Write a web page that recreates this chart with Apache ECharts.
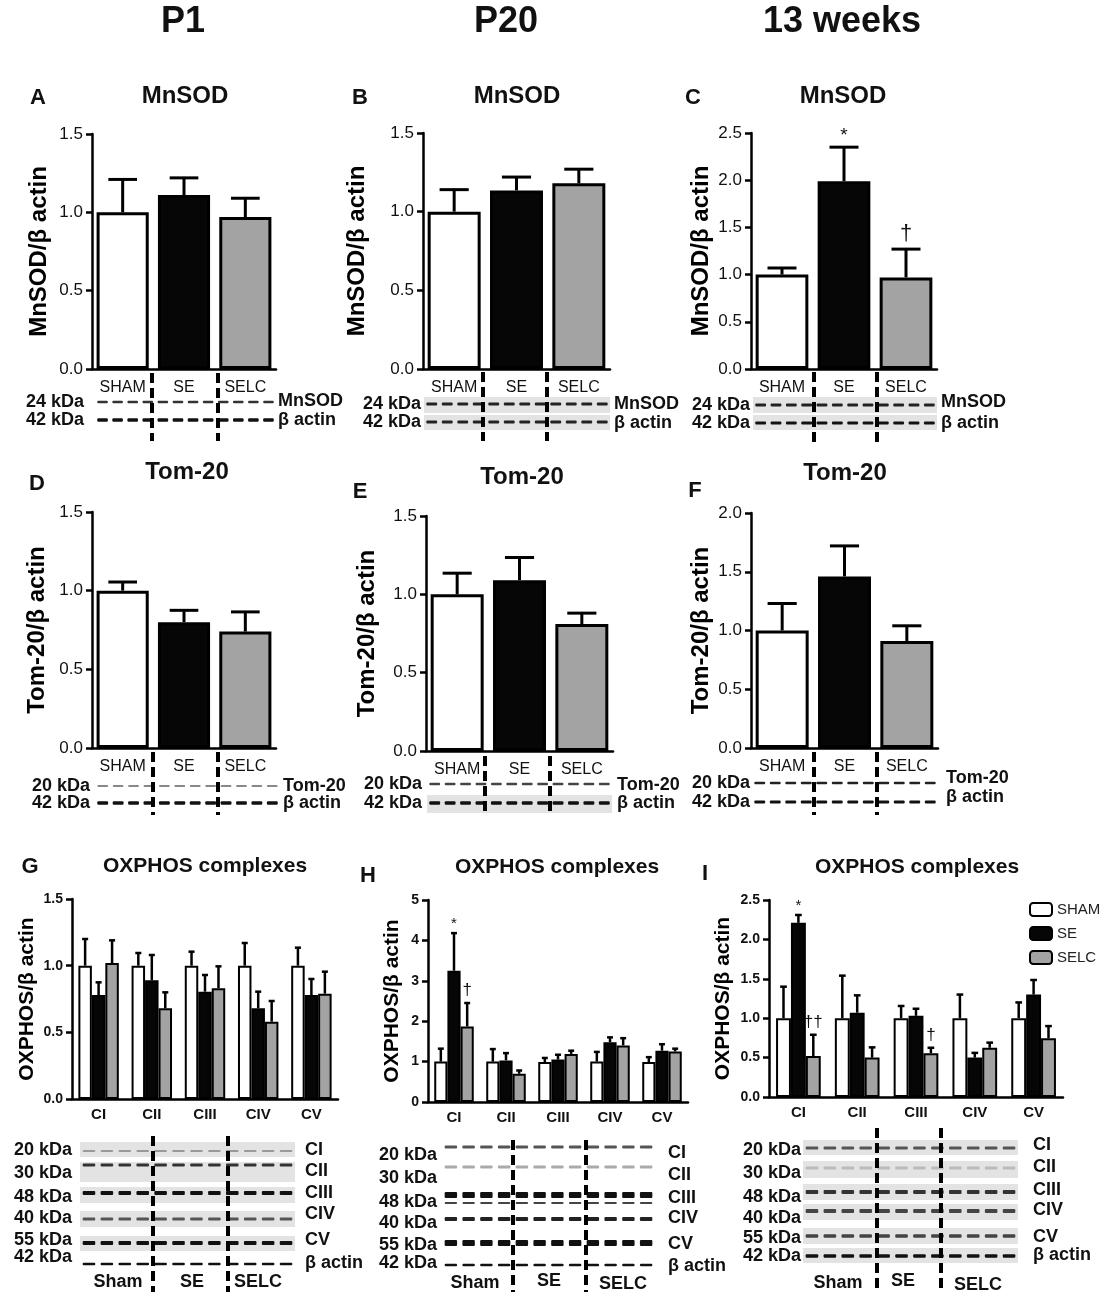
<!DOCTYPE html>
<html><head><meta charset="utf-8">
<script src="https://cdn.jsdelivr.net/npm/echarts@6/dist/echarts.min.js"></script>
<style>html,body{margin:0;padding:0;background:#fff}#c{width:1110px;height:1300px}</style>
</head><body><div id="c"></div>
<script>
// ---------- DATA ----------
const groups = ['SHAM', 'SE', 'SELC'];
const complexes = ['CI', 'CII', 'CIII', 'CIV', 'CV'];
const columnHeaders = ['P1', 'P20', '13 weeks'];

const mnsodP1Mean = [1.00, 1.11, 0.97];
const mnsodP1Sem = [0.21, 0.11, 0.12];
const mnsodP20Mean = [1.00, 1.135, 1.18];
const mnsodP20Sem = [0.14, 0.085, 0.09];
const mnsod13wMean = [1.00, 1.99, 0.97];
const mnsod13wSem = [0.07, 0.36, 0.30];
const mnsod13wSig = ['', '*', '†'];

const tomP1Mean = [1.00, 0.80, 0.74];
const tomP1Sem = [0.055, 0.075, 0.125];
const tomP20Mean = [1.00, 1.09, 0.81];
const tomP20Sem = [0.135, 0.145, 0.07];
const tom13wMean = [1.00, 1.46, 0.91];
const tom13wSem = [0.23, 0.26, 0.13];

const oxP1ShamMean = [1.00, 1.00, 1.00, 1.00, 1.00];
const oxP1ShamSem = [0.20, 0.095, 0.105, 0.17, 0.135];
const oxP1SeMean = [0.78, 0.89, 0.805, 0.68, 0.78];
const oxP1SeSem = [0.095, 0.19, 0.125, 0.125, 0.12];
const oxP1SelcMean = [1.02, 0.68, 0.83, 0.58, 0.79];
const oxP1SelcSem = [0.17, 0.12, 0.165, 0.155, 0.165];

const oxP20ShamMean = [1.00, 1.00, 0.99, 1.00, 0.99];
const oxP20ShamSem = [0.32, 0.31, 0.10, 0.24, 0.12];
const oxP20SeMean = [3.25, 1.03, 1.05, 1.48, 1.27];
const oxP20SeSem = [0.93, 0.18, 0.12, 0.12, 0.16];
const oxP20SelcMean = [1.87, 0.70, 1.19, 1.40, 1.25];
const oxP20SelcSem = [0.58, 0.08, 0.08, 0.18, 0.07];
const oxP20SeSig = ['*', '', '', '', ''];
const oxP20SelcSig = ['†', '', '', '', ''];

const ox13wShamMean = [1.00, 1.00, 1.00, 1.00, 1.00];
const ox13wShamSem = [0.40, 0.54, 0.155, 0.30, 0.20];
const ox13wSeMean = [2.21, 1.07, 1.03, 0.50, 1.30];
const ox13wSeSem = [0.10, 0.22, 0.09, 0.06, 0.185];
const ox13wSelcMean = [0.52, 0.50, 0.555, 0.625, 0.745];
const ox13wSelcSem = [0.27, 0.13, 0.07, 0.065, 0.155];
const ox13wSeSig = ['*', '', '', '', ''];
const ox13wSelcSig = ['††', '', '†', '', ''];

// ---------- LAYOUT ----------
const F = '"Liberation Sans", Arial, sans-serif';
const COLORS = ['#ffffff', '#060606', '#a3a3a3'];

const panels = [
  {letter:'A', lx:38, ly:98, title:'MnSOD', tx:185, ty:96, grid:{left:92,top:134,width:184,height:235}, max:1.5, step:0.5, yName:'MnSOD/β actin', nameGap:41, single:true, mean:mnsodP1Mean, sem:mnsodP1Sem},
  {letter:'B', lx:360, ly:98, title:'MnSOD', tx:517, ty:96, grid:{left:423,top:133,width:187,height:236}, max:1.5, step:0.5, yName:'MnSOD/β actin', nameGap:54, single:true, mean:mnsodP20Mean, sem:mnsodP20Sem},
  {letter:'C', lx:693, ly:98, title:'MnSOD', tx:843, ty:96, grid:{left:751,top:133,width:186,height:236}, max:2.5, step:0.5, yName:'MnSOD/β actin', nameGap:38, single:true, mean:mnsod13wMean, sem:mnsod13wSem, sig:mnsod13wSig},
  {letter:'D', lx:37, ly:484, title:'Tom-20', tx:187, ty:472, grid:{left:92,top:512,width:184,height:236}, max:1.5, step:0.5, yName:'Tom-20/β actin', nameGap:43, single:true, mean:tomP1Mean, sem:tomP1Sem},
  {letter:'E', lx:360, ly:492, title:'Tom-20', tx:522, ty:477, grid:{left:426,top:516,width:187,height:235}, max:1.5, step:0.5, yName:'Tom-20/β actin', nameGap:47, single:true, mean:tomP20Mean, sem:tomP20Sem},
  {letter:'F', lx:695, ly:491, title:'Tom-20', tx:845, ty:473, grid:{left:751,top:513,width:187,height:235}, max:2.0, step:0.5, yName:'Tom-20/β actin', nameGap:38, single:true, mean:tom13wMean, sem:tom13wSem},
  {letter:'G', lx:30, ly:867, title:'OXPHOS complexes', tx:205, ty:866, grid:{left:72,top:899,width:266,height:200}, max:1.5, step:0.5, yName:'OXPHOS/β actin', nameGap:34, single:false,
   sets:[{mean:oxP1ShamMean, sem:oxP1ShamSem},{mean:oxP1SeMean, sem:oxP1SeSem},{mean:oxP1SelcMean, sem:oxP1SelcSem}]},
  {letter:'H', lx:368, ly:876, title:'OXPHOS complexes', tx:557, ty:867, grid:{left:428,top:900,width:260,height:202}, max:5, step:1, yName:'OXPHOS/β actin', nameGap:25, single:false,
   sets:[{mean:oxP20ShamMean, sem:oxP20ShamSem},{mean:oxP20SeMean, sem:oxP20SeSem, sig:oxP20SeSig},{mean:oxP20SelcMean, sem:oxP20SelcSem, sig:oxP20SelcSig}]},
  {letter:'I', lx:705, ly:874, title:'OXPHOS complexes', tx:917, ty:867, grid:{left:769,top:900,width:294,height:197}, max:2.5, step:0.5, yName:'OXPHOS/β actin', nameGap:35, single:false,
   sets:[{mean:ox13wShamMean, sem:ox13wShamSem},{mean:ox13wSeMean, sem:ox13wSeSem, sig:ox13wSeSig},{mean:ox13wSelcMean, sem:ox13wSelcSem, sig:ox13wSelcSig}]}
];

function text(x, y, s, align, font, extra) {
  return Object.assign({type:'text', x:x, y:y, z:10, silent:true,
    style:{text:s, font:font, fill:'#111', align:align, verticalAlign:'middle', textAlign:align, textVerticalAlign:'middle'}}, extra || {});
}

function makeErr(k, n, gap, capFrac, lw, sig, small) {
  return function (params, api) {
    const c = api.value(0), m = api.value(1), s = api.value(2);
    const band = api.size([1, 0])[0];
    const bw = band * (1 - gap) / n;
    const base = api.coord([c, m]);
    const top = api.coord([c, m + s]);
    const cx = base[0] + (k - (n - 1) / 2) * bw;
    const cap = bw * capFrac;
    const children = [
      {type:'line', shape:{x1:cx, y1:base[1], x2:cx, y2:top[1]}, style:{stroke:'#000', lineWidth:lw}},
      {type:'line', shape:{x1:cx - cap / 2, y1:top[1], x2:cx + cap / 2, y2:top[1]}, style:{stroke:'#000', lineWidth:lw}}
    ];
    const t = sig ? sig[params.dataIndex] : '';
    if (t) {
      const isStar = t === '*';
      const fs = small ? (isStar ? 15 : 17) : (isStar ? 19 : 22);
      children.push({type:'text', x:cx, y:top[1] - (isStar ? 2 : 4),
        style:{text:t, font:fs + 'px ' + F, fill:'#111', align:'center', verticalAlign:'bottom', textAlign:'center', textVerticalAlign:'bottom'}});
    }
    return {type:'group', children:children};
  };
}

const option = {
  animation:false, backgroundColor:'#fff', textStyle:{fontFamily:F},
  grid:[], xAxis:[], yAxis:[], series:[],
  legend:{orient:'vertical', left:1024, top:897, itemWidth:22, itemHeight:13, itemGap:9, selectedMode:false,
    data:['SHAM','SE','SELC'], textStyle:{fontSize:15, color:'#222', fontFamily:F},
    itemStyle:{borderColor:'#000', borderWidth:2}},
  graphic:{elements:[]}
};
const G = option.graphic.elements;

panels.forEach((p, i) => {
  option.grid.push(Object.assign({containLabel:false}, p.grid));
  const s = p.single;
  option.xAxis.push({type:'category', gridIndex:i, data: s ? groups : complexes,
    axisLine:{lineStyle:{color:'#000', width:2.5}},
    axisTick:{alignWithLabel:true, length:6, lineStyle:{color:'#000', width:2.5}},
    axisLabel:{color:'#111', fontSize: s ? 16 : 15, fontWeight: s ? 'normal' : 'bold', margin: s ? 11 : 8, interval:0}});
  option.yAxis.push({type:'value', gridIndex:i, min:0, max:p.max, interval:p.step,
    name:p.yName, nameLocation:'middle', nameGap:p.nameGap,
    nameTextStyle:{fontSize: s ? 24 : 21, fontWeight:'bold', color:'#000', fontFamily:F},
    axisLine:{show:true, lineStyle:{color:'#000', width:2.5}},
    axisTick:{show:true, length:6, lineStyle:{color:'#000', width:2.5}},
    splitLine:{show:false},
    axisLabel:{color:'#111', fontSize: s ? 17 : 14, fontWeight: s ? 'normal' : 'bold', margin:9,
      formatter: v => p.step >= 1 ? String(v) : v.toFixed(1)}});
  if (s) {
    option.series.push({type:'bar', name:'panel' + p.letter, xAxisIndex:i, yAxisIndex:i, barWidth:'85%', z:2,
      data:p.mean.map((v, k) => ({value:v, itemStyle:{color:COLORS[k]}})),
      itemStyle:{borderColor:'#000', borderWidth:3}});
    option.series.push({type:'custom', xAxisIndex:i, yAxisIndex:i, z:3,
      data:p.mean.map((v, k) => [k, v, p.sem[k]]),
      renderItem: makeErr(0, 1, 0.15, 0.55, 3, p.sig, false)});
  } else {
    p.sets.forEach((g, k) => {
      option.series.push({type:'bar', name:groups[k], xAxisIndex:i, yAxisIndex:i, barGap:'0%', barCategoryGap:'24%', z:2,
        data:g.mean, itemStyle:{color:COLORS[k], borderColor:'#000', borderWidth:2}});
      option.series.push({type:'custom', xAxisIndex:i, yAxisIndex:i, z:3,
        data:g.mean.map((v, c) => [c, v, g.sem[c]]),
        renderItem: makeErr(k, 3, 0.24, 0.45, 2.5, g.sig, true)});
    });
  }
  G.push(text(p.lx, p.ly, p.letter, 'center', 'bold 22px ' + F));
  G.push(text(p.tx, p.ty, p.title, 'center', 'bold ' + (s ? 24 : 21) + 'px ' + F));
});

// column headers
[183, 506, 842].forEach((x, j) => G.push(text(x, 22, columnHeaders[j], 'center', 'bold 36px ' + F)));

// ---------- western blot strips (decorative) ----------
function addBlot(b) {
  const lw = (b.x1 - b.x0) / b.lanes;
  b.rows.forEach(r => {
    if (r.bg) G.push({type:'rect', z:1, silent:true, shape:{x:b.x0, y:r.bg[0], width:b.x1 - b.x0, height:r.bg[1]}, style:{fill:'#e3e3e3'}});
    for (let i = 0; i < b.lanes; i++) {
      G.push({type:'rect', z:2, silent:true, shape:{x:b.x0 + i * lw + lw * 0.15, y:r.band - r.h / 2, width:lw * 0.7, height:r.h, r:1}, style:{fill:r.color}});
    }
    if (r.kda) G.push(text(b.kdaX, r.kdaY, r.kda, 'right', 'bold 18px ' + F));
    if (r.name) G.push(text(b.nameX, r.nameY, r.name, 'left', 'bold 18px ' + F));
  });
  b.seps.forEach(x => G.push({type:'line', z:3, silent:true, shape:{x1:x, y1:b.sepY[0], x2:x, y2:b.sepY[1]}, style:{stroke:'#000', lineWidth:4, lineDash:[10, 5]}}));
  (b.bottom || []).forEach(t => G.push(text(t[1], t[2], t[0], 'center', 'bold 18px ' + F)));
}

const blots = [
  {x0:95, x1:276, lanes:12, kdaX:84, nameX:278, seps:[152, 218], sepY:[373, 441], rows:[
    {band:402, h:2.5, color:'#333', kda:'24 kDa', kdaY:402, name:'MnSOD', nameY:401},
    {band:420, h:3.5, color:'#111', kda:'42 kDa', kdaY:420, name:'β actin', nameY:420}]},
  {x0:424, x1:610, lanes:12, kdaX:421, nameX:614, seps:[483, 547], sepY:[372, 441], rows:[
    {band:404, h:3, color:'#222', bg:[397, 16], kda:'24 kDa', kdaY:404, name:'MnSOD', nameY:404},
    {band:422, h:3, color:'#222', bg:[415, 15], kda:'42 kDa', kdaY:422, name:'β actin', nameY:423}]},
  {x0:753, x1:937, lanes:12, kdaX:750, nameX:941, seps:[814, 877], sepY:[372, 442], rows:[
    {band:405, h:3, color:'#222', bg:[397, 16], kda:'24 kDa', kdaY:405, name:'MnSOD', nameY:402},
    {band:423, h:3, color:'#111', bg:[415, 15], kda:'42 kDa', kdaY:423, name:'β actin', nameY:423}]},
  {x0:95, x1:280, lanes:12, kdaX:90, nameX:283, seps:[153, 218], sepY:[752, 815], rows:[
    {band:786, h:2, color:'#888', kda:'20 kDa', kdaY:786, name:'Tom-20', nameY:786},
    {band:803, h:3.5, color:'#111', kda:'42 kDa', kdaY:803, name:'β actin', nameY:803}]},
  {x0:427, x1:612, lanes:12, kdaX:422, nameX:617, seps:[485, 550], sepY:[756, 815], rows:[
    {band:784, h:2.5, color:'#444', kda:'20 kDa', kdaY:784, name:'Tom-20', nameY:785},
    {band:803, h:3.5, color:'#111', bg:[795, 18], kda:'42 kDa', kdaY:803, name:'β actin', nameY:803}]},
  {x0:752, x1:938, lanes:12, kdaX:750, nameX:946, seps:[814, 877], sepY:[752, 815], rows:[
    {band:783, h:2.5, color:'#222', kda:'20 kDa', kdaY:783, name:'Tom-20', nameY:778},
    {band:802, h:3, color:'#111', kda:'42 kDa', kdaY:802, name:'β actin', nameY:797}]},
  {x0:80, x1:295, lanes:12, kdaX:72, nameX:305, seps:[153, 228], sepY:[1136, 1292],
   bottom:[['Sham', 118, 1282], ['SE', 192, 1282], ['SELC', 258, 1282]], rows:[
    {band:1151, h:2, color:'#999', bg:[1142, 15], kda:'20 kDa', kdaY:1150, name:'CI', nameY:1150},
    {band:1165, h:3, color:'#333', bg:[1162, 20], kda:'30 kDa', kdaY:1173, name:'CII', nameY:1171},
    {band:1193, h:4, color:'#111', bg:[1187, 16], kda:'48 kDa', kdaY:1197, name:'CIII', nameY:1193},
    {band:1219, h:3, color:'#555', bg:[1211, 16], kda:'40 kDa', kdaY:1218, name:'CIV', nameY:1214},
    {band:1243, h:4, color:'#111', bg:[1236, 15], kda:'55 kDa', kdaY:1240, name:'CV', nameY:1240},
    {band:1264, h:2.5, color:'#111', kda:'42 kDa', kdaY:1257, name:'β actin', nameY:1263}]},
  {x0:442, x1:655, lanes:12, kdaX:437, nameX:668, seps:[513, 586], sepY:[1140, 1292],
   bottom:[['Sham', 475, 1283], ['SE', 549, 1281], ['SELC', 623, 1284]], rows:[
    {band:1147, h:3, color:'#555', kda:'20 kDa', kdaY:1155, name:'CI', nameY:1153},
    {band:1167, h:3, color:'#aaa', kda:'30 kDa', kdaY:1178, name:'CII', nameY:1175},
    {band:1195, h:6, color:'#111', kda:'48 kDa', kdaY:1202, name:'CIII', nameY:1198},
    {band:1203, h:2, color:'#444'},
    {band:1219, h:4, color:'#222', kda:'40 kDa', kdaY:1223, name:'CIV', nameY:1218},
    {band:1243, h:6, color:'#111', kda:'55 kDa', kdaY:1245, name:'CV', nameY:1244},
    {band:1265, h:2.5, color:'#111', kda:'42 kDa', kdaY:1263, name:'β actin', nameY:1266}]},
  {x0:803, x1:1018, lanes:12, kdaX:801, nameX:1033, seps:[877, 941], sepY:[1128, 1292],
   bottom:[['Sham', 838, 1283], ['SE', 903, 1281], ['SELC', 978, 1285]], rows:[
    {band:1148, h:3, color:'#555', bg:[1140, 15], kda:'20 kDa', kdaY:1150, name:'CI', nameY:1145},
    {band:1168, h:3, color:'#bbb', bg:[1161, 17], kda:'30 kDa', kdaY:1173, name:'CII', nameY:1167},
    {band:1192, h:4, color:'#333', bg:[1184, 16], kda:'48 kDa', kdaY:1197, name:'CIII', nameY:1190},
    {band:1211, h:4, color:'#444', bg:[1204, 16], kda:'40 kDa', kdaY:1218, name:'CIV', nameY:1210},
    {band:1236, h:3.5, color:'#444', bg:[1228, 16], kda:'55 kDa', kdaY:1238, name:'CV', nameY:1237},
    {band:1256, h:3.5, color:'#111', bg:[1248, 15], kda:'42 kDa', kdaY:1256, name:'β actin', nameY:1255}]}
];
blots.forEach(addBlot);

const chart = echarts.init(document.getElementById('c'), null, {renderer:'canvas', width:1110, height:1300});
chart.setOption(option);
</script>
</body></html>
